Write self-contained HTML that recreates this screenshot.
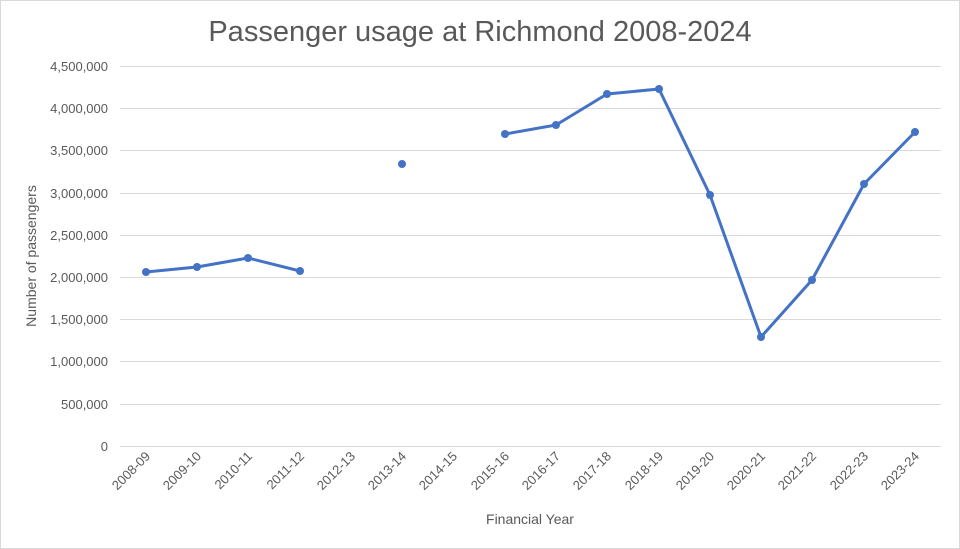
<!DOCTYPE html>
<html><head><meta charset="utf-8"><style>
html,body{margin:0;padding:0;background:#fff;}
svg{display:block;font-family:"Liberation Sans",sans-serif;}
</style></head><body>
<svg width="960" height="549" viewBox="0 0 960 549">
<rect x="0.5" y="0.5" width="959" height="548" fill="#fff" stroke="#d9d9d9"/>
<text x="480" y="41" text-anchor="middle" font-size="29" fill="#595959">Passenger usage at Richmond 2008-2024</text>
<g stroke="#d9d9d9" stroke-width="1">
<line x1="120" x2="941" y1="66.5" y2="66.5"/>
<line x1="120" x2="941" y1="108.5" y2="108.5"/>
<line x1="120" x2="941" y1="150.5" y2="150.5"/>
<line x1="120" x2="941" y1="193.5" y2="193.5"/>
<line x1="120" x2="941" y1="235.5" y2="235.5"/>
<line x1="120" x2="941" y1="277.5" y2="277.5"/>
<line x1="120" x2="941" y1="319.5" y2="319.5"/>
<line x1="120" x2="941" y1="361.5" y2="361.5"/>
<line x1="120" x2="941" y1="404.5" y2="404.5"/>
<line x1="120" x2="941" y1="446.5" y2="446.5"/>
</g>
<g font-size="13" fill="#595959" text-anchor="end">
<text x="108" y="71">4,500,000</text>
<text x="108" y="113">4,000,000</text>
<text x="108" y="155">3,500,000</text>
<text x="108" y="198">3,000,000</text>
<text x="108" y="240">2,500,000</text>
<text x="108" y="282">2,000,000</text>
<text x="108" y="324">1,500,000</text>
<text x="108" y="366">1,000,000</text>
<text x="108" y="409">500,000</text>
<text x="108" y="451">0</text>
</g>
<text transform="translate(36,256) rotate(-90)" text-anchor="middle" font-size="14" fill="#595959">Number of passengers</text>
<text x="530" y="524" text-anchor="middle" font-size="14" fill="#595959">Financial Year</text>
<g font-size="13" fill="#595959" text-anchor="end">
<text transform="translate(151,457) rotate(-45)">2008-09</text>
<text transform="translate(202,457) rotate(-45)">2009-10</text>
<text transform="translate(253,457) rotate(-45)">2010-11</text>
<text transform="translate(305,457) rotate(-45)">2011-12</text>
<text transform="translate(356,457) rotate(-45)">2012-13</text>
<text transform="translate(407,457) rotate(-45)">2013-14</text>
<text transform="translate(458,457) rotate(-45)">2014-15</text>
<text transform="translate(510,457) rotate(-45)">2015-16</text>
<text transform="translate(561,457) rotate(-45)">2016-17</text>
<text transform="translate(612,457) rotate(-45)">2017-18</text>
<text transform="translate(664,457) rotate(-45)">2018-19</text>
<text transform="translate(715,457) rotate(-45)">2019-20</text>
<text transform="translate(766,457) rotate(-45)">2020-21</text>
<text transform="translate(817,457) rotate(-45)">2021-22</text>
<text transform="translate(869,457) rotate(-45)">2022-23</text>
<text transform="translate(920,457) rotate(-45)">2023-24</text>
</g>
<g fill="none" stroke="#4472c4" stroke-width="3" stroke-linejoin="round">
<polyline points="146,272 197,267 248,258 300,271"/>
<polyline points="505,134 556,125 607,94 659,89 710,195 761,337 812,280 864,184 915,132"/>
</g>
<g fill="#4472c4">
<circle cx="146" cy="272" r="4"/><circle cx="197" cy="267" r="4"/><circle cx="248" cy="258" r="4"/><circle cx="300" cy="271" r="4"/>
<circle cx="402" cy="164" r="4"/>
<circle cx="505" cy="134" r="4"/><circle cx="556" cy="125" r="4"/><circle cx="607" cy="94" r="4"/><circle cx="659" cy="89" r="4"/><circle cx="710" cy="195" r="4"/><circle cx="761" cy="337" r="4"/><circle cx="812" cy="280" r="4"/><circle cx="864" cy="184" r="4"/><circle cx="915" cy="132" r="4"/>
</g>
</svg>
</body></html>
